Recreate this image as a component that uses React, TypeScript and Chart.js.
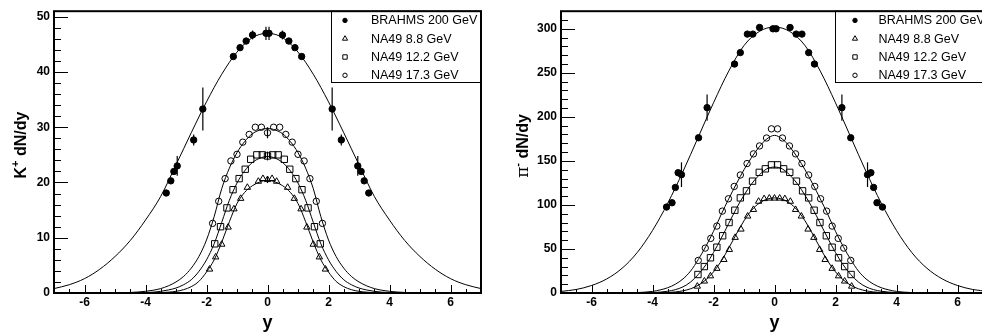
import React, { useEffect, useRef } from 'react';
import { Chart, registerables } from 'chart.js';
Chart.register(...registerables);

// ---------- shared ----------
const xTickValues = [-6, -4, -2, 0, 2, 4, 6];
const kYTicks = [0, 10, 20, 30, 40, 50];
const piYTicks = [0, 50, 100, 150, 200, 250, 300];
const legendLabels = ['BRAHMS 200 GeV', 'NA49 8.8 GeV', 'NA49 12.2 GeV', 'NA49 17.3 GeV'];

// ---------- K+ panel: data points ----------
const kBrahmsY = [-3.32, -3.17, -3.07, -2.96, -2.42, -2.12, -1.12, -0.9, -0.7, -0.49, -0.05, 0.05, 0.49, 0.7, 0.9, 1.12, 2.12, 2.42, 2.96, 3.07, 3.17, 3.32];
const kBrahmsV = [18.1, 20.3, 22.0, 23.0, 27.7, 33.3, 42.8, 44.4, 45.6, 46.7, 47.0, 47.0, 46.7, 45.6, 44.4, 42.8, 33.3, 27.7, 23.0, 22.0, 20.3, 18.1];
const kBrahmsErr = [0, 0, 0, 1.8, 1.0, 3.9, 0, 0, 0, 0.8, 1.2, 1.2, 0.8, 0, 0, 0, 3.9, 1.0, 1.8, 0, 0, 0];

const k88Y = [-1.9, -1.7, -1.5, -1.29, -1.1, -0.88, -0.66, -0.3, -0.15, 0, 0.15, 0.3, 0.66, 0.88, 1.1, 1.29, 1.5, 1.7, 1.9];
const k88V = [4.3, 6.5, 8.8, 11.9, 15.2, 17.1, 19.1, 20.2, 20.7, 20.5, 20.7, 20.2, 19.1, 17.1, 15.2, 11.9, 8.8, 6.5, 4.3];
const k88Err = [0, 0, 0, 0, 0, 0, 0, 0, 0, 0.6, 0, 0, 0, 0, 0, 0, 0, 0, 0];

const k122Y = [-1.73, -1.54, -1.33, -1.13, -0.93, -0.73, -0.55, -0.35, -0.17, 0, 0.17, 0.35, 0.55, 0.73, 0.93, 1.13, 1.33, 1.54, 1.73];
const k122V = [8.9, 12.0, 15.4, 18.7, 20.7, 22.4, 24.2, 25.0, 25.0, 24.8, 25.0, 25.0, 24.2, 22.4, 20.7, 18.7, 15.4, 12.0, 8.9];
const k122Err = [0, 0, 0, 0, 0, 0, 0, 0, 0, 0.8, 0, 0, 0, 0, 0, 0, 0, 0, 0];

const k173Y = [-1.8, -1.6, -1.39, -1.2, -1.0, -0.81, -0.6, -0.4, -0.2, 0, 0.2, 0.4, 0.6, 0.81, 1.0, 1.2, 1.39, 1.6, 1.8];
const k173V = [12.6, 16.6, 20.7, 23.9, 25.1, 27.3, 28.7, 30.0, 30.0, 29.0, 30.0, 30.0, 28.7, 27.3, 25.1, 23.9, 20.7, 16.6, 12.6];
const k173Err = [0, 0, 0, 0, 0, 0, 0, 0, 0, 1.0, 0, 0, 0, 0, 0, 0, 0, 0, 0];

// ---------- pi- panel: data points ----------
const piBrahmsY = [-3.54, -3.36, -3.25, -3.16, -3.05, -2.49, -2.21, -1.31, -1.12, -0.89, -0.71, -0.49, -0.05, 0.05, 0.51, 0.71, 0.9, 1.12, 1.31, 2.21, 2.5, 3.05, 3.16, 3.25, 3.36, 3.54];
const piBrahmsV = [97.6, 102.5, 119.9, 136.6, 134.4, 176.3, 210.5, 260, 273, 294, 294, 301.5, 300, 300, 301.5, 294, 294, 273, 260, 210.5, 176.3, 134.4, 136.6, 119.9, 102.5, 97.6];
const piBrahmsErr = [0, 0, 0, 0, 14, 0, 15, 0, 0, 0, 0, 0, 0, 0, 0, 0, 0, 0, 0, 15, 0, 14, 0, 0, 0, 0];

const pi88Y = [-2.53, -2.3, -2.1, -1.89, -1.66, -1.48, -1.29, -1.1, -0.88, -0.69, -0.52, -0.34, -0.17, 0, 0.17, 0.34, 0.52, 0.69, 0.88, 1.1, 1.29, 1.48, 1.66, 1.89, 2.1, 2.3, 2.53];
const pi88V = [7.6, 13.4, 19.3, 27.8, 37.9, 49.3, 63, 72.4, 87.2, 94.7, 104, 107, 107.6, 107.6, 107.6, 107, 104, 94.7, 87.2, 72.4, 63, 49.3, 37.9, 27.8, 19.3, 13.4, 7.6];

const pi122Y = [-2.51, -2.3, -2.1, -1.89, -1.7, -1.49, -1.3, -1.12, -0.92, -0.72, -0.5, -0.3, -0.1, 0.1, 0.3, 0.5, 0.72, 0.92, 1.12, 1.3, 1.49, 1.7, 1.89, 2.1, 2.3, 2.51];
const pi122V = [21, 30, 40, 52, 65, 80, 94, 108, 116, 127, 137, 141, 145.5, 145.5, 141, 137, 127, 116, 108, 94, 80, 65, 52, 40, 30, 21];

const pi173Y = [-2.5, -2.27, -2.09, -1.89, -1.71, -1.51, -1.32, -1.12, -0.9, -0.69, -0.49, -0.26, -0.1, 0.1, 0.26, 0.49, 0.69, 0.9, 1.12, 1.32, 1.51, 1.71, 1.89, 2.09, 2.27, 2.5];
const pi173V = [37, 51, 62, 76, 93, 107, 121, 134, 147, 158, 167, 176, 186.4, 186.4, 176, 167, 158, 147, 134, 121, 107, 93, 76, 62, 51, 37];

// ---------- fitted curves ----------
const brahmsGrid = [-7, -6.5, -6, -5.5, -5, -4.5, -4, -3.5, -3, -2.5, -2, -1.5, -1, -0.5, 0, 0.5, 1, 1.5, 2, 2.5, 3, 3.5, 4, 4.5, 5, 5.5, 6, 6.5, 7];
const kBrahmsCurve = [0.8, 1.5, 2.6, 4.3, 6.6, 9.5, 13.2, 17.5, 23.2, 29.0, 34.6, 39.6, 43.6, 46.2, 47.0, 46.2, 43.6, 39.6, 34.6, 29.0, 23.2, 17.5, 13.2, 9.5, 6.6, 4.3, 2.6, 1.5, 0.8];
const piBrahmsCurve = [1.8, 4, 8.5, 16, 28, 46, 71, 102, 138, 177, 216, 252, 281, 297, 302, 297, 281, 252, 216, 177, 138, 102, 71, 46, 28, 16, 8.5, 4, 1.8];

const naGrid = [-5, -4.5, -4, -3.75, -3.5, -3.25, -3, -2.75, -2.5, -2.25, -2, -1.75, -1.5, -1.25, -1, -0.75, -0.5, -0.25, 0, 0.25, 0.5, 0.75, 1, 1.25, 1.5, 1.75, 2, 2.25, 2.5, 2.75, 3, 3.25, 3.5, 3.75, 4, 4.5, 5];
const k88Curve = [0, 0, 0.01, 0.03, 0.07, 0.15, 0.3, 0.6, 1.15, 2.1, 3.8, 6.0, 9.2, 12.9, 16.2, 18.2, 19.4, 20.1, 20.4, 20.1, 19.4, 18.2, 16.2, 12.9, 9.2, 6.0, 3.8, 2.1, 1.15, 0.6, 0.3, 0.15, 0.07, 0.03, 0.01, 0, 0];
const k122Curve = [0.01, 0.03, 0.08, 0.15, 0.3, 0.55, 0.9, 1.5, 2.4, 3.9, 6.0, 8.9, 12.8, 16.8, 19.9, 22.1, 23.6, 24.4, 24.7, 24.4, 23.6, 22.1, 19.9, 16.8, 12.8, 8.9, 6.0, 3.9, 2.4, 1.5, 0.9, 0.55, 0.3, 0.15, 0.08, 0.03, 0.01];
const k173Curve = [0.02, 0.1, 0.3, 0.5, 0.8, 1.3, 2.0, 3.0, 4.5, 6.6, 9.6, 13.8, 18.9, 22.6, 25.4, 27.4, 28.8, 29.5, 29.8, 29.5, 28.8, 27.4, 25.4, 22.6, 18.9, 13.8, 9.6, 6.6, 4.5, 3.0, 2.0, 1.3, 0.8, 0.5, 0.3, 0.1, 0.02];
const pi88Curve = [0, 0.02, 0.1, 0.25, 0.55, 1.2, 2.5, 4.8, 8.8, 15, 24, 36, 51, 67, 82, 94, 102, 106.5, 108, 106.5, 102, 94, 82, 67, 51, 36, 24, 15, 8.8, 4.8, 2.5, 1.2, 0.55, 0.25, 0.1, 0.02, 0];
const pi122Curve = [0.02, 0.1, 0.5, 1.0, 2.0, 3.8, 7, 12.5, 21, 32, 46, 62, 79, 96, 111, 124, 134, 141, 143, 141, 134, 124, 111, 96, 79, 62, 46, 32, 21, 12.5, 7, 3.8, 2.0, 1.0, 0.5, 0.1, 0.02];
const pi173Curve = [0.1, 0.5, 1.8, 3.5, 6, 10, 16, 25, 38, 53, 70, 89, 107, 124, 140, 154, 166, 175, 179, 175, 166, 154, 140, 124, 107, 89, 70, 53, 38, 25, 16, 10, 6, 3.5, 1.8, 0.5, 0.1];

const FONT = "'Liberation Sans', Arial, Helvetica, sans-serif";

function pts(xs: number[], ys: number[]) {
  return xs.map((x, i) => ({ x, y: ys[i] }));
}

function markerSet(label: string, xs: number[], ys: number[], errs: number[] | null, style: string, r: number, filled: boolean) {
  return {
    label,
    data: pts(xs, ys),
    errors: errs,
    showLine: false,
    pointStyle: style,
    pointRadius: r,
    pointHoverRadius: r,
    pointBackgroundColor: filled ? '#000' : 'rgba(0,0,0,0)',
    pointBorderColor: '#000',
    pointBorderWidth: 1,
  };
}

function curveSet(xs: number[], ys: number[]) {
  return {
    label: '',
    data: pts(xs, ys),
    showLine: true,
    pointRadius: 0,
    pointHoverRadius: 0,
    borderColor: '#000',
    borderWidth: 1,
    cubicInterpolationMode: 'monotone',
    fill: false,
  };
}

function drawMarker(ctx: CanvasRenderingContext2D, style: string, x: number, y: number, r: number, filled: boolean) {
  ctx.beginPath();
  if (style === 'circle') ctx.arc(x, y, r, 0, Math.PI * 2);
  else if (style === 'rect') ctx.rect(x - r, y - r, 2 * r, 2 * r);
  else {
    ctx.moveTo(x, y - r);
    ctx.lineTo(x + r * 0.87, y + r * 0.5);
    ctx.lineTo(x - r * 0.87, y + r * 0.5);
    ctx.closePath();
  }
  ctx.fillStyle = '#000';
  ctx.strokeStyle = '#000';
  ctx.lineWidth = 1;
  if (filled) ctx.fill();
  ctx.stroke();
}

const decorPlugin = {
  id: 'rootDecor',
  afterDatasetsDraw(chart: any, _args: any, opts: any) {
    const ctx = chart.ctx as CanvasRenderingContext2D;
    const xs = chart.scales.x, ys = chart.scales.y;
    ctx.save();
    ctx.strokeStyle = '#000';
    ctx.lineWidth = 1.2;
    chart.data.datasets.forEach((ds: any) => {
      if (!ds.errors) return;
      ds.data.forEach((p: any, i: number) => {
        const e = ds.errors[i];
        if (!e) return;
        const px = xs.getPixelForValue(p.x);
        ctx.beginPath();
        ctx.moveTo(px, ys.getPixelForValue(p.y - e));
        ctx.lineTo(px, ys.getPixelForValue(p.y + e));
        ctx.stroke();
      });
    });
    ctx.restore();
  },
  afterDraw(chart: any, _args: any, opts: any) {
    const ctx = chart.ctx as CanvasRenderingContext2D;
    const { left, right, top, bottom } = chart.chartArea;
    const xs = chart.scales.x, ys = chart.scales.y;
    ctx.save();

    // legend box
    const lx = opts.legendLeft;
    const lh = 71.3;
    ctx.fillStyle = '#fff';
    ctx.fillRect(lx, top, right - lx, lh);
    ctx.strokeStyle = '#000';
    ctx.lineWidth = 1;
    ctx.strokeRect(Math.round(lx) + 0.5, top, right - Math.round(lx), lh);
    const lStyles = ['circle', 'triangle', 'rect', 'circle'];
    const lSizes = [2.2, 3.0, 2.2, 2.2];
    const lFilled = [true, false, false, false];
    ctx.font = `12.5px ${FONT}`;
    ctx.textBaseline = 'middle';
    ctx.textAlign = 'left';
    legendLabels.forEach((t, i) => {
      const y = top + 9.2 + i * 18.3;
      drawMarker(ctx, lStyles[i], lx + opts.markerDx, y, lSizes[i], lFilled[i]);
      ctx.fillStyle = '#000';
      ctx.fillText(t, lx + opts.textDx, y + 0.5);
    });

    // ticks
    ctx.strokeStyle = '#000';
    ctx.lineWidth = 1;
    for (let v = -7; v <= 7.001; v += 0.5) {
      const major = Math.abs(v / 2 - Math.round(v / 2)) < 1e-6;
      const px = Math.round(xs.getPixelForValue(v)) + 0.5;
      ctx.beginPath();
      ctx.moveTo(px, bottom);
      ctx.lineTo(px, bottom - (major ? 8 : 4));
      ctx.stroke();
    }
    for (let v = 0; v <= opts.yMax + 1e-6; v += opts.yMinor) {
      const major = Math.abs(v / opts.yMajor - Math.round(v / opts.yMajor)) < 1e-6;
      const py = Math.round(ys.getPixelForValue(v)) + 0.5;
      ctx.beginPath();
      ctx.moveTo(left, py);
      ctx.lineTo(left + (major ? 14 : 7), py);
      ctx.stroke();
    }

    // frame
    ctx.lineWidth = 2;
    ctx.strokeRect(left, top, right - left, bottom - top);

    // x title
    ctx.fillStyle = '#000';
    ctx.font = `bold 18px ${FONT}`;
    ctx.textAlign = 'center';
    ctx.textBaseline = 'alphabetic';
    ctx.fillText('y', (left + right) / 2, 328);

    // y title
    ctx.translate(opts.titleX, opts.titleY);
    ctx.rotate(-Math.PI / 2);
    ctx.textAlign = 'left';
    const mainFont = `bold 16px ${FONT}`;
    const supFont = `bold 11px ${FONT}`;
    const firstFont = opts.kind === 'pi' ? `17px 'DejaVu Serif', 'Liberation Serif', serif` : mainFont;
    const first = opts.kind === 'pi' ? 'π' : 'K';
    const sup = opts.kind === 'pi' ? '-' : '+';
    const rest = ' dN/dy';
    ctx.font = firstFont; const w1 = ctx.measureText(first).width;
    ctx.font = supFont; const w2 = ctx.measureText(sup).width;
    ctx.font = mainFont; const w3 = ctx.measureText(rest).width;
    let sx = -(w1 + w2 + w3) / 2;
    ctx.font = firstFont; ctx.fillText(first, sx, 0); sx += w1;
    ctx.font = supFont; ctx.fillText(sup, sx, -7); sx += w2;
    ctx.font = mainFont; ctx.fillText(rest, sx, 0);
    ctx.restore();
  },
};

function makeConfig(p: any): any {
  return {
    type: 'scatter',
    data: {
      datasets: [
        markerSet(legendLabels[0], p.bY, p.bV, p.bErr, 'circle', 3.2, true),
        markerSet(legendLabels[1], p.aY, p.aV, p.aErr, 'triangle', 3.7, false),
        markerSet(legendLabels[2], p.cY, p.cV, p.cErr, 'rect', 4.5, false),
        markerSet(legendLabels[3], p.dY, p.dV, p.dErr, 'circle', 3.2, false),
        curveSet(brahmsGrid, p.bCurve),
        curveSet(naGrid, p.aCurve),
        curveSet(naGrid, p.cCurve),
        curveSet(naGrid, p.dCurve),
      ],
    },
    options: {
      responsive: false,
      devicePixelRatio: 1,
      animation: false,
      events: [],
      layout: { padding: { top: 6, right: p.padRight, left: 0, bottom: 0 } },
      plugins: {
        legend: { display: false },
        tooltip: { enabled: false },
        rootDecor: {
          legendLeft: p.legendLeft, markerDx: p.markerDx, textDx: p.textDx,
          yMax: p.yMax, yMajor: p.yMajor, yMinor: p.yMinor,
          titleX: p.titleX, titleY: p.titleY, kind: p.kind,
        },
      },
      scales: {
        x: {
          type: 'linear', min: -7, max: 7,
          grid: { display: false, drawTicks: false },
          border: { display: false },
          ticks: { color: '#000', padding: 2, maxRotation: 0, autoSkip: false, font: { family: FONT, size: 12, weight: 'bold' } },
          afterBuildTicks: (s: any) => { s.ticks = xTickValues.map((v) => ({ value: v })); },
          afterFit: (s: any) => { s.height = 41; },
        },
        y: {
          type: 'linear', min: 0, max: p.yMax,
          grid: { display: false, drawTicks: false },
          border: { display: false },
          ticks: { color: '#000', padding: 4, autoSkip: false, font: { family: FONT, size: 12, weight: 'bold' } },
          afterBuildTicks: (s: any) => { s.ticks = p.yTicks.map((v: number) => ({ value: v })); },
          afterFit: (s: any) => { s.width = p.yAxisWidth; },
        },
      },
    },
    plugins: [decorPlugin],
  };
}

const kPanel = {
  bY: kBrahmsY, bV: kBrahmsV, bErr: kBrahmsErr,
  aY: k88Y, aV: k88V, aErr: k88Err,
  cY: k122Y, cV: k122V, cErr: k122Err,
  dY: k173Y, dV: k173V, dErr: k173Err,
  bCurve: kBrahmsCurve, aCurve: k88Curve, cCurve: k122Curve, dCurve: k173Curve,
  yMax: 51, yMajor: 10, yMinor: 2, yTicks: kYTicks,
  yAxisWidth: 54, padRight: 9,
  legendLeft: 331, markerDx: 14, textDx: 40,
  titleX: 26, titleY: 145, kind: 'k',
};

const piPanel = {
  bY: piBrahmsY, bV: piBrahmsV, bErr: piBrahmsErr,
  aY: pi88Y, aV: pi88V, aErr: null,
  cY: pi122Y, cV: pi122V, cErr: null,
  dY: pi173Y, dV: pi173V, dErr: null,
  bCurve: piBrahmsCurve, aCurve: pi88Curve, cCurve: pi122Curve, dCurve: pi173Curve,
  yMax: 320, yMajor: 50, yMinor: 10, yTicks: piYTicks,
  yAxisWidth: 71, padRight: 12,
  legendLeft: 345, markerDx: 20, textDx: 43.5,
  titleX: 38, titleY: 146, kind: 'pi',
};

export default function App() {
  const leftRef = useRef<HTMLCanvasElement>(null);
  const rightRef = useRef<HTMLCanvasElement>(null);
  useEffect(() => {
    const c1 = new Chart(leftRef.current as HTMLCanvasElement, makeConfig(kPanel));
    const c2 = new Chart(rightRef.current as HTMLCanvasElement, makeConfig(piPanel));
    return () => {
      c1.destroy();
      c2.destroy();
    };
  }, []);
  return (
    <div style={{ position: 'fixed', left: 0, top: 0, width: 982, height: 334, overflow: 'hidden', background: '#fff' }}>
      <canvas ref={leftRef} width={490} height={334} style={{ position: 'absolute', left: 0, top: 0, width: 490, height: 334 }} />
      <canvas ref={rightRef} width={510} height={334} style={{ position: 'absolute', left: 490, top: 0, width: 510, height: 334 }} />
    </div>
  );
}
